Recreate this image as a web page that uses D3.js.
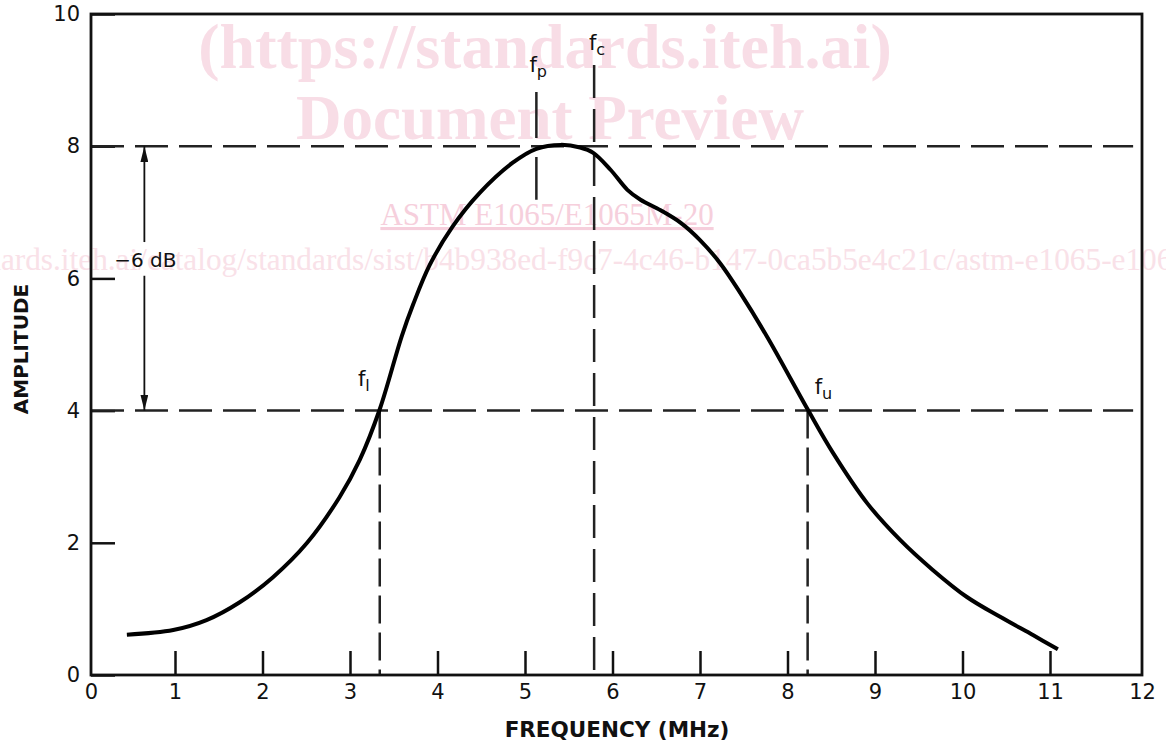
<!DOCTYPE html>
<html>
<head>
<meta charset="utf-8">
<script src="https://cdn.jsdelivr.net/npm/d3@7"></script>
<style>
  body { margin: 0; background: #fff; }
  svg { display: block; }
  .tick text { font-family: "DejaVu Sans", Verdana, sans-serif; font-size: 21px; fill: #111; }
</style>
</head>
<body>
<div id="chart"></div>
<script>
// curve
const freq = [0.45, 0.98, 1.36, 1.74, 2.12, 2.51, 2.88, 3.11, 3.34, 3.59, 3.72, 3.91, 4.17, 4.48, 4.86, 5.13, 5.41, 5.63, 5.78, 5.98, 6.17, 6.32, 6.55, 6.78, 7.00, 7.23, 7.46, 7.77, 8.23, 8.52, 8.91, 9.29, 9.66, 10.05, 10.43, 10.81, 11.09];
const amp = [0.61, 0.68, 0.83, 1.10, 1.48, 2.00, 2.69, 3.25, 4.02, 5.12, 5.60, 6.20, 6.78, 7.29, 7.75, 7.96, 8.02, 7.98, 7.90, 7.64, 7.34, 7.19, 7.03, 6.84, 6.58, 6.23, 5.78, 5.11, 4.02, 3.36, 2.60, 2.04, 1.59, 1.18, 0.88, 0.60, 0.39];

const xTicks = [0, 1, 2, 3, 4, 5, 6, 7, 8, 9, 10, 11, 12];
const yTicks = [0, 2, 4, 6, 8, 10];

// peak level and -6 dB level
const levels = [8, 4];
const dbText = "\u22126 dB";
const dbFreq = 0.65;

// marker frequencies: f_l, f_p, f_c, f_u
const markerNames = ["l", "p", "c", "u"];
const markerFreq = [3.34, 5.13, 5.79, 8.23];

const W = 1166, H = 745;
let margin = {top: 14, right: 24, bottom: 70, left: 91};
let width = W - margin.left - margin.right;
let height = H - margin.top - margin.bottom;

var svg = d3.select("#chart")
  .append("svg")
    .attr("width", W)
    .attr("height", H);

// watermark (behind)
var wm = svg.append("g")
  .attr("font-family", "'Liberation Serif', 'Times New Roman', serif")
  .attr("text-anchor", "middle");
wm.append("text")
  .attr("x", 545).attr("y", 68)
  .attr("font-size", 64).attr("font-weight", "bold")
  .attr("fill", "#f8dde6")
  .text("(https://standards.iteh.ai)");
wm.append("text")
  .attr("x", 550).attr("y", 139)
  .attr("font-size", 63).attr("font-weight", "bold")
  .attr("fill", "#f8dde6")
  .text("Document Preview");
wm.append("text")
  .attr("x", 547).attr("y", 225)
  .attr("font-size", 31)
  .attr("fill", "#f6cfdc")
  .attr("text-decoration", "underline")
  .text("ASTM E1065/E1065M-20");
wm.append("text")
  .attr("x", 551).attr("y", 270)
  .attr("font-size", 31.3)
  .attr("fill", "#f9e1e8")
  .text("https://standards.iteh.ai/catalog/standards/sist/b4b938ed-f9c7-4c46-b147-0ca5b5e4c21c/astm-e1065-e1065m-20");

var g = svg.append("g")
  .attr("transform", "translate(" + margin.left + "," + margin.top + ")");

// the drawn scale sits a few px left of the frame
var x = d3.scaleLinear().domain([0, 12]).range([-3.5, width - 4.5]);
var y = d3.scaleLinear().domain([0, 10]).range([height, 0]);

// X axis, ticks point up into the plot
g.append("g")
  .attr("transform", "translate(0," + height + ")")
  .call(d3.axisBottom(x).tickValues(xTicks).tickSize(-24).tickPadding(9).tickFormat(d3.format("d")))
  .call(a => a.select(".domain").remove())
  .call(a => a.selectAll(".tick line")
    .attr("stroke", "#111").attr("stroke-width", 2.5)
    .attr("display", d => (d === 0 || d === 12) ? "none" : null))
  .call(a => a.selectAll(".tick text")
    .attr("dx", d => d === 0 ? 3.5 : (d === 12 ? 4.5 : 0)));

// Y axis
g.append("g")
  .call(d3.axisLeft(y).tickValues(yTicks).tickSize(-24).tickPadding(11).tickFormat(d3.format("d")))
  .call(a => a.select(".domain").remove())
  .call(a => a.selectAll(".tick line").attr("stroke", "#111").attr("stroke-width", 2.5));

// horizontal dashed levels
g.selectAll(".level")
  .data(levels)
  .enter().append("line")
    .attr("class", "level")
    .attr("x1", 0).attr("x2", x(11.95))
    .attr("y1", d => y(d)).attr("y2", d => y(d))
    .attr("stroke", "#222").attr("stroke-width", 2.5)
    .attr("stroke-dasharray", "33,11");

// vertical marker lines
var fl = markerFreq[0], fp = markerFreq[1], fc = markerFreq[2], fu = markerFreq[3];
g.selectAll(".vmark")
  .data([fl, fu])
  .enter().append("line")
    .attr("class", "vmark")
    .attr("x1", d => x(d)).attr("x2", d => x(d))
    .attr("y1", y(4)).attr("y2", y(0))
    .attr("stroke", "#222").attr("stroke-width", 2.5)
    .attr("stroke-dasharray", "28,9");
g.append("line")
  .attr("x1", x(fc)).attr("x2", x(fc))
  .attr("y1", y(9.23)).attr("y2", y(0))
  .attr("stroke", "#222").attr("stroke-width", 2.5)
  .attr("stroke-dasharray", "33,11");
g.append("line")
  .attr("x1", x(fp)).attr("x2", x(fp))
  .attr("y1", y(8.82)).attr("y2", y(7.19))
  .attr("stroke", "#222").attr("stroke-width", 2.5)
  .attr("stroke-dasharray", "46,19,43");

// arrow markers
var defs = svg.append("defs");
defs.append("marker")
  .attr("id", "ahead")
  .attr("viewBox", "0 0 16 8")
  .attr("refX", 16).attr("refY", 4)
  .attr("markerWidth", 16).attr("markerHeight", 8)
  .attr("markerUnits", "userSpaceOnUse")
  .attr("orient", "auto")
  .append("path")
    .attr("d", "M0,0L16,4L0,8Z")
    .attr("fill", "#111");

g.append("line")
  .attr("x1", x(dbFreq)).attr("x2", x(dbFreq))
  .attr("y1", y(6.55)).attr("y2", y(8))
  .attr("stroke", "#111").attr("stroke-width", 1.8)
  .attr("marker-end", "url(#ahead)");
g.append("line")
  .attr("x1", x(dbFreq)).attr("x2", x(dbFreq))
  .attr("y1", y(6.04)).attr("y2", y(4))
  .attr("stroke", "#111").attr("stroke-width", 1.8)
  .attr("marker-end", "url(#ahead)");
g.append("text")
  .attr("x", x(dbFreq) + 1).attr("y", y(6.28))
  .attr("dy", "0.36em")
  .attr("text-anchor", "middle")
  .attr("font-family", "'DejaVu Sans', Verdana, sans-serif")
  .attr("font-size", 20)
  .attr("fill", "#111")
  .text(dbText);

// the response curve
var line = d3.line()
  .x(d => x(d[0]))
  .y(d => y(d[1]))
  .curve(d3.curveCatmullRom.alpha(0.5));

g.append("path")
  .datum(freq.map((f, i) => [f, amp[i]]))
  .attr("d", line)
  .attr("fill", "none")
  .attr("stroke", "#000")
  .attr("stroke-width", 4);

// frame
g.append("rect")
  .attr("x", 0).attr("y", 0)
  .attr("width", width).attr("height", height)
  .attr("fill", "none")
  .attr("stroke", "#111").attr("stroke-width", 2.8);

// f labels with subscripts
var labelPos = [
  {x: fl - 0.25, y: 4.37},
  {x: fp - 0.08, y: 9.12},
  {x: fc - 0.06, y: 9.45},
  {x: fu + 0.08, y: 4.25}
];
markerNames.forEach(function (name, i) {
  var t = g.append("text")
    .attr("x", x(labelPos[i].x)).attr("y", y(labelPos[i].y))
    .attr("font-family", "'DejaVu Sans', Verdana, sans-serif")
    .attr("font-size", 21)
    .attr("fill", "#111");
  t.append("tspan").text("f");
  t.append("tspan")
    .attr("dy", 5)
    .attr("font-size", 16)
    .text(name);
});

// axis titles
svg.append("text")
  .attr("x", 617).attr("y", 737)
  .attr("text-anchor", "middle")
  .attr("font-family", "'DejaVu Sans', Verdana, sans-serif")
  .attr("font-weight", "bold")
  .attr("font-size", 21.5)
  .attr("fill", "#111")
  .text("FREQUENCY (MHz)");

svg.append("text")
  .attr("transform", "translate(28," + 349 + ")rotate(-90)")
  .attr("text-anchor", "middle")
  .attr("font-family", "'DejaVu Sans', Verdana, sans-serif")
  .attr("font-weight", "bold")
  .attr("font-size", 20)
  .attr("fill", "#111")
  .text("AMPLITUDE");
</script>
</body>
</html>
